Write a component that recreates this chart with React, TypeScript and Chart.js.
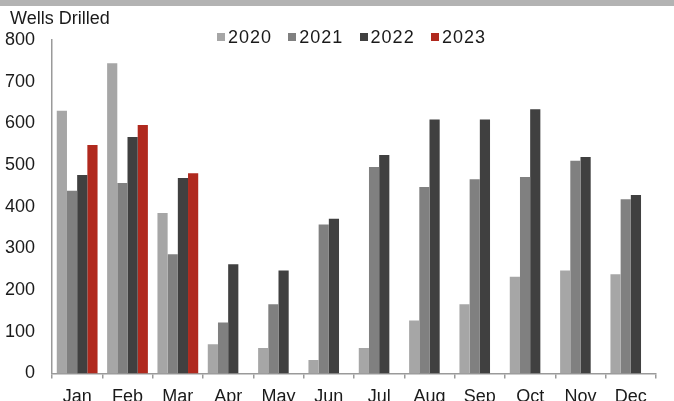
import { useEffect, useRef } from "react";
import { Chart, registerables } from "chart.js";

Chart.register(...registerables);

const months = ["Jan", "Feb", "Mar", "Apr", "May", "Jun", "Jul", "Aug", "Sep", "Oct", "Nov", "Dec"];
const years = ["2020", "2021", "2022", "2023"];
const wells2020 = [630, 744, 385, 70, 61, 32, 61, 127, 166, 232, 247, 238];
const wells2021 = [438, 457, 286, 122, 166, 357, 495, 447, 466, 471, 510, 418];
const wells2022 = [476, 567, 469, 262, 247, 371, 524, 609, 609, 634, 519, 428];
const wells2023 = [548, 596, 480, null, null, null, null, null, null, null, null, null];
const seriesColors = ["#a6a6a6", "#808080", "#404040", "#b0291e"];
const yMin = 0;
const yMax = 800;
const yStep = 100;
const yTitle = "Wells Drilled";

const FONT = "'Liberation Sans', Arial, Helvetica, sans-serif";

export default function App() {
  const ref = useRef<HTMLCanvasElement | null>(null);

  useEffect(() => {
    document.body.style.margin = "0";
    const canvas = ref.current;
    if (!canvas) return;
    const seriesData = [wells2020, wells2021, wells2022, wells2023];
    const chart = new Chart(canvas, {
      type: "bar",
      data: {
        labels: months,
        datasets: years.map((y, i) => ({
          label: y,
          data: seriesData[i],
          backgroundColor: seriesColors[i],
          borderWidth: 0,
          categoryPercentage: 0.81,
          barPercentage: 1.0,
        })),
      },
      options: {
        responsive: false,
        animation: false,
        layout: { padding: { left: 5, right: 18, top: 40, bottom: 0 } },
        plugins: {
          legend: { display: false },
          title: { display: false },
          tooltip: { enabled: false },
        },
        scales: {
          x: {
            offset: true,
            grid: {
              display: true,
              drawOnChartArea: false,
              drawTicks: true,
              tickLength: 5,
              offset: true,
              color: "#9a9a9a",
              lineWidth: 1.5,
            },
            border: { display: true, color: "#9a9a9a", width: 1.5 },
            ticks: {
              color: "#1a1a1a",
              font: { family: FONT, size: 18 },
              padding: 8,
              maxRotation: 0,
              autoSkip: false,
            },
          },
          y: {
            min: yMin,
            max: yMax,
            afterFit: (scale: any) => {
              scale.width = 47;
            },
            grid: { display: false, drawTicks: false },
            border: { display: true, color: "#9a9a9a", width: 1.5 },
            ticks: {
              stepSize: yStep,
              color: "#1a1a1a",
              font: { family: FONT, size: 18 },
              padding: 17,
            },
          },
        },
      },
    });
    return () => chart.destroy();
  }, []);

  return (
    <div style={{ position: "relative", width: 674, height: 401, overflow: "hidden", background: "#fff", fontFamily: FONT }}>
      <div style={{ position: "absolute", left: 0, top: 0, width: 674, height: 6, background: "#b3b3b3" }} />
      <canvas ref={ref} width={674} height={416} style={{ position: "absolute", left: 0, top: 0 }} />
      <div style={{ position: "absolute", left: 10, top: 8, fontSize: 18, color: "#1a1a1a", lineHeight: "20px" }}>{yTitle}</div>
      <div style={{ position: "absolute", left: 217, top: 26, display: "flex", fontSize: 18, color: "#1a1a1a", lineHeight: "22px", letterSpacing: 1 }}>
        {years.map((y, i) => (
          <div key={y} style={{ display: "flex", alignItems: "center", width: 71.3 }}>
            <span style={{ display: "inline-block", width: 8, height: 8, background: seriesColors[i], marginRight: 3 }} />
            <span>{y}</span>
          </div>
        ))}
      </div>
    </div>
  );
}
